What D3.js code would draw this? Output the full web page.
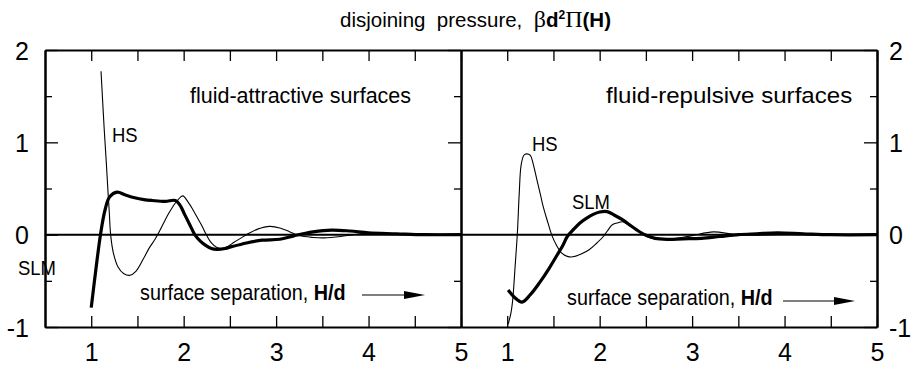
<!DOCTYPE html>
<html><head><meta charset="utf-8">
<script src="https://cdn.jsdelivr.net/npm/d3@7/dist/d3.min.js"></script>
<style>
html,body{margin:0;padding:0;background:#fff;}
svg{display:block;font-family:"Liberation Sans",Arial,sans-serif;}
text{white-space:pre;}
</style></head>
<body><svg id="c" width="911" height="367"></svg>
<script>
// ---- data ----
const xDomain = [0.5, 5];
const yDomain = [-1, 2];
const xTickValues = [1, 1.5, 2, 2.5, 3, 3.5, 4, 4.5, 5];
const xTickLabels = ["1", "2", "3", "4", "5"];
const yMajorTicks = [-1, 0, 1, 2];
const yMinorTicks = [-0.5, 0.5, 1.5];

const attrHS_x = [1.106,1.14,1.165,1.18,1.195,1.21,1.24,1.29,1.35,1.42,1.48,1.56,1.63,1.69,1.75,1.80,1.85,1.90,1.94,1.99,2.05,2.10,2.15,2.20,2.25,2.30,2.36,2.45,2.55,2.68,2.80,2.93,3.05,3.15,3.25,3.40,3.52,3.70,3.88,4.2,4.6,5.0];
const attrHS_y = [1.77,1.15,0.75,0.49,0.25,0.0,-0.2,-0.35,-0.42,-0.44,-0.40,-0.27,-0.14,-0.05,0.06,0.16,0.25,0.33,0.38,0.42,0.35,0.27,0.18,0.09,-0.01,-0.09,-0.14,-0.14,-0.08,0.0,0.06,0.09,0.07,0.03,-0.01,-0.03,-0.035,-0.02,0.005,0.01,0.005,0.0];
const attrSLM_x = [1.0,1.05,1.10,1.15,1.20,1.28,1.37,1.47,1.57,1.66,1.80,1.91,1.96,2.01,2.07,2.12,2.18,2.23,2.30,2.36,2.45,2.52,2.68,2.85,3.04,3.2,3.4,3.6,3.8,4.0,4.3,4.6,5.0];
const attrSLM_y = [-0.79,-0.38,0.0,0.27,0.41,0.46,0.43,0.40,0.38,0.37,0.36,0.37,0.32,0.22,0.10,0.0,-0.07,-0.11,-0.15,-0.16,-0.15,-0.13,-0.09,-0.06,-0.05,-0.01,0.03,0.05,0.04,0.02,0.01,0.0,0.0];

const repHS_x = [1.01,1.04,1.06,1.085,1.11,1.13,1.15,1.18,1.21,1.25,1.28,1.32,1.36,1.39,1.44,1.48,1.53,1.59,1.65,1.71,1.80,1.89,1.97,2.04,2.09,2.14,2.20,2.25,2.32,2.40,2.47,2.55,2.65,2.80,3.0,3.23,3.45,3.7,4.0,4.5,5.0];
const repHS_y = [-0.97,-0.85,-0.70,-0.35,0.02,0.45,0.75,0.86,0.875,0.86,0.77,0.60,0.43,0.30,0.13,0.0,-0.11,-0.20,-0.235,-0.24,-0.21,-0.16,-0.09,-0.02,0.05,0.11,0.13,0.14,0.10,0.05,0.0,-0.035,-0.05,-0.045,-0.01,0.03,0.005,-0.005,0.005,0.0,0.0];
const repSLM_x = [1.01,1.08,1.16,1.25,1.35,1.45,1.54,1.60,1.65,1.72,1.79,1.86,1.93,2.00,2.08,2.16,2.25,2.36,2.45,2.51,2.60,2.73,2.9,3.1,3.3,3.5,3.7,3.92,4.2,4.5,5.0];
const repSLM_y = [-0.60,-0.68,-0.73,-0.65,-0.52,-0.37,-0.22,-0.12,-0.02,0.06,0.13,0.18,0.22,0.245,0.25,0.21,0.16,0.08,0.02,-0.01,-0.04,-0.05,-0.045,-0.04,-0.02,0.0,0.01,0.02,0.01,0.0,0.0];

const panelTitles = ["fluid-attractive surfaces", "fluid-repulsive surfaces"];
const curveLabels = ["HS", "SLM"];
const axisTitle = "surface separation, ";
const axisTitleBold = "H/d";

// ---- layout ----
const svg = d3.select("#c");
const yTop = 50, yBottom = 327;
const panelRanges = [[45, 461], [461, 877]];
const y = d3.scaleLinear().domain(yDomain).range([yBottom, yTop]);
const FONT = 25;

const series = [
  {hs:[attrHS_x, attrHS_y], slm:[attrSLM_x, attrSLM_y]},
  {hs:[repHS_x, repHS_y], slm:[repSLM_x, repSLM_y]}
];

const xs = panelRanges.map(r => d3.scaleLinear().domain(xDomain).range(r));

function styleAxis(g, sw) {
  g.selectAll(".domain").attr("stroke", "#000").attr("stroke-width", sw);
  g.selectAll(".tick line").attr("stroke", "#000").attr("stroke-width", 1.3);
  g.selectAll("text").attr("fill", "#000").attr("font-family", "Liberation Sans, Arial, sans-serif");
}

xs.forEach((x, i) => {
  const gb = svg.append("g").attr("transform", `translate(0,${yBottom})`)
    .call(d3.axisBottom(x).tickValues(xTickValues).tickSize(-11).tickSizeOuter(0).tickPadding(16)
      .tickFormat(d => Number.isInteger(d) ? xTickLabels[d - 1] : ""));
  styleAxis(gb, 2);
  gb.selectAll("text").attr("font-size", FONT);
  const gt = svg.append("g").attr("transform", `translate(0,${yTop})`)
    .call(d3.axisTop(x).tickValues(xTickValues).tickSize(-11).tickSizeOuter(0).tickFormat(""));
  styleAxis(gt, 2);
});

function yAxis(gen, xpos, labels, pad) {
  const gM = svg.append("g").attr("transform", `translate(${xpos},0)`)
    .call(gen(y).tickValues(yMajorTicks).tickSize(-13).tickSizeOuter(0).tickPadding(pad)
      .tickFormat(labels ? d3.format("d") : ""));
  styleAxis(gM, 2);
  gM.selectAll("text").attr("font-size", FONT).attr("dy", "0.36em");
  const gm = svg.append("g").attr("transform", `translate(${xpos},0)`)
    .call(gen(y).tickValues(yMinorTicks).tickSize(-7).tickSizeOuter(0).tickFormat(""));
  styleAxis(gm, 2);
  return gM;
}
const gl = yAxis(d3.axisLeft, 45, true, 16);
gl.selectAll("text").text(d => d < 0 ? "-" + Math.abs(d) : d);
yAxis(d3.axisRight, 461, false, 0);
const gr = yAxis(d3.axisRight, 877, true, 12);
gr.selectAll("text").text(d => d < 0 ? "-" + Math.abs(d) : d);

svg.append("line").attr("x1", 45).attr("x2", 877).attr("y1", y(0)).attr("y2", y(0))
  .attr("stroke", "#000").attr("stroke-width", 2);

series.forEach((s, i) => {
  const x = xs[i];
  const line = d3.line().x(d => x(d[0])).y(d => y(d[1])).curve(d3.curveCatmullRom.alpha(0.5));
  const hs = s.hs[0].map((v, k) => [v, s.hs[1][k]]);
  const slm = s.slm[0].map((v, k) => [v, s.slm[1][k]]);
  svg.append("path").attr("d", line(hs)).attr("fill", "none").attr("stroke", "#000").attr("stroke-width", 1.1);
  svg.append("path").attr("d", line(slm)).attr("fill", "none").attr("stroke", "#000").attr("stroke-width", 3.2)
    .attr("stroke-linejoin", "round");
});

function txt(x0, y0, str, size, sx, anchor) {
  return svg.append("text").attr("transform", `translate(${x0},${y0}) scale(${sx},1)`)
    .attr("font-size", size).attr("text-anchor", anchor || "start").text(str);
}

const t = svg.append("text").attr("x", 340).attr("y", 27).attr("font-size", 20.5);
t.append("tspan").text("disjoining  pressure,  ");
t.append("tspan").attr("font-family", "Liberation Serif, serif").attr("font-size", 24).text("β");
t.append("tspan").attr("font-weight", "bold").text("d");
t.append("tspan").attr("font-weight", "bold").attr("font-size", 12).attr("dy", -8).text("2");
t.append("tspan").attr("font-family", "Liberation Serif, serif").attr("font-size", 24).attr("dy", 8).text("Π");
t.append("tspan").attr("font-weight", "bold").text("(H)");

txt(190, 103, panelTitles[0], 21.5, 1, "start");
txt(606, 103, panelTitles[1], 22.5, 1.07, "start");

txt(112, 142, curveLabels[0], 20.5, 0.9, "start");
txt(18, 275, curveLabels[1], 20.5, 0.9, "start");
txt(532, 151, curveLabels[0], 20.5, 0.9, "start");
txt(572, 209, curveLabels[1], 20.5, 0.9, "start");

function axTitle(x0, y0, ax1, ax2, ay) {
  const tt = svg.append("text").attr("transform", `translate(${x0},${y0}) scale(0.9,1)`).attr("font-size", 22);
  tt.append("tspan").text(axisTitle);
  tt.append("tspan").attr("font-weight", "bold").text(axisTitleBold);
  svg.append("line").attr("x1", ax1).attr("x2", ax2 - 18).attr("y1", ay).attr("y2", ay)
    .attr("stroke", "#000").attr("stroke-width", 1.2);
  svg.append("path").attr("d", `M${ax2 - 21},${ay - 4}L${ax2},${ay}L${ax2 - 21},${ay + 4}Z`).attr("fill", "#000");
}
axTitle(140, 300, 362, 425, 295);
axTitle(567, 305, 783, 855, 301);
</script></body></html>
